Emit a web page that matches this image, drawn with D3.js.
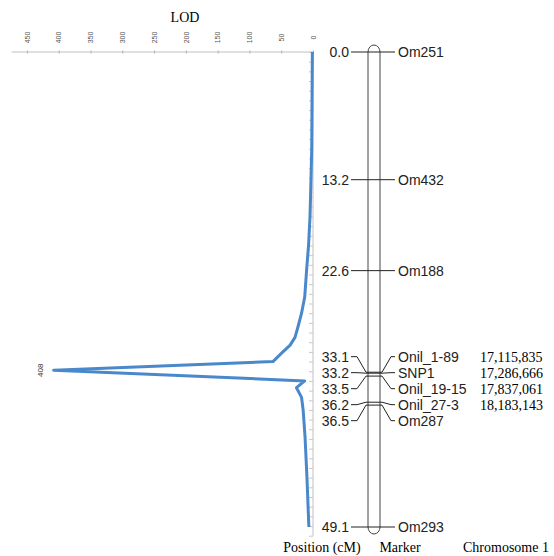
<!DOCTYPE html>
<html><head><meta charset="utf-8">
<script src="https://cdn.jsdelivr.net/npm/d3@7"></script>
<style>
body{margin:0;background:#fff;}
svg{display:block;}
</style>
</head><body>
<svg id="c" width="554" height="556"></svg>
<script>
// ---- data ----
const lodPositions = [0, 5, 10, 14, 17, 20, 22.5, 25.3, 27, 28.4, 29.5, 30.3, 31.1, 32.0, 32.9, 34.0, 34.7, 35.7, 37.0, 39.8, 44, 49.1];
const lodValues    = [1, 1.5, 2, 3.5, 4.7, 7, 10, 13, 18, 23.6, 28.3, 36, 49, 63, 408, 13, 26, 18, 15.5, 12.5, 9.5, 6.5];
const lodTicks = [0, 50, 100, 150, 200, 250, 300, 350, 400, 450];
const peakLabel = "408";
const markerNames = ["Om251", "Om432", "Om188", "Onil_1-89", "SNP1", "Onil_19-15", "Onil_27-3", "Om287", "Om293"];
const markerPos   = [0.0, 13.2, 22.6, 33.1, 33.2, 33.5, 36.2, 36.5, 49.1];
const markerPhys  = ["", "", "", "17,115,835", "17,286,666", "17,837,061", "18,183,143", "", ""];
const footerLabels = ["Position (cM)", "Marker", "Chromosome 1"];

(function () {
// ---- layout ----
const svg = d3.select("#c");
const x = d3.scaleLinear().domain([0, 475]).range([313, 11]);
const y = d3.scaleLinear().domain([0, 49.1]).range([52, 527]);
const axisY = 51.5;
const chrX = 368, chrW = 12;
const chrL = chrX, chrR = chrX + chrW;
const serif = "'Liberation Serif','Times New Roman',serif";
const sans = "'Liberation Sans',Arial,sans-serif";

// top LOD axis
const gTop = svg.append("g").attr("transform", `translate(0,${axisY})`)
  .call(d3.axisTop(x).tickValues(lodTicks).tickSizeInner(-2).tickSizeOuter(0));
gTop.select(".domain").attr("stroke", "#c0c0c0");
gTop.selectAll(".tick line").attr("stroke", "#b0b0b0").attr("y1", -1);
gTop.selectAll(".tick text")
  .attr("x", 0).attr("y", 0).attr("dy", "0.32em")
  .attr("transform", "translate(0,-14) rotate(-90)")
  .attr("text-anchor", "middle")
  .attr("font-family", sans).attr("font-size", 7).attr("fill", "#555");

svg.append("text").attr("x", 185).attr("y", 22).attr("text-anchor", "middle")
  .attr("font-family", serif).attr("font-size", 14).attr("fill", "#000").text("LOD");

// vertical position axis (minor ticks every 1 cM)
const yAx = d3.scaleLinear().domain([0, 50]).range([y(0), y(50)]);
const gLeft = svg.append("g").attr("transform", `translate(${x(0)},0)`)
  .call(d3.axisLeft(yAx).tickValues(d3.range(0, 51, 1)).tickSize(4).tickFormat(""));
gLeft.select(".domain").attr("stroke", "#c0c0c0").attr("d", `M0,${axisY}V${y(50)}`);
gLeft.selectAll(".tick line").attr("stroke", "#c8c8c8");

// LOD curve
const lodData = lodPositions.map((p, i) => [lodValues[i], p]);
svg.append("path").datum(lodData)
  .attr("fill", "none").attr("stroke", "#4a88cc").attr("stroke-width", 3)
  .attr("stroke-linejoin", "round")
  .attr("d", d3.line().x(d => x(d[0])).y(d => y(d[1])));

// peak label
const peakIdx = lodValues.indexOf(d3.max(lodValues));
svg.append("text")
  .attr("transform", `translate(${x(lodValues[peakIdx]) - 13},${y(lodPositions[peakIdx])}) rotate(-90)`)
  .attr("text-anchor", "middle").attr("dy", "0.32em")
  .attr("font-family", sans).attr("font-size", 8).attr("fill", "#333").text(peakLabel);

// chromosome
const chrTop = y(0) - 7, chrBot = y(49.1) + 7;
svg.append("rect").attr("x", chrX).attr("y", chrTop).attr("width", chrW).attr("height", chrBot - chrTop)
  .attr("rx", chrW / 2).attr("ry", 7)
  .attr("fill", "#fff").attr("stroke", "#444").attr("stroke-width", 1);

// label layout: spread overlapping labels, centred on the group's extent
const spacing = 16;
const my = markerPos.map(p => y(p));
function layout(g) {
  const n = g.ys.length, mid = (d3.min(g.ys) + d3.max(g.ys)) / 2;
  const start = mid - (n - 1) * spacing / 2;
  return g.ys.map((_, k) => start + k * spacing);
}
let groups = [];
my.forEach((v, i) => {
  groups.push({idx: [i], ys: [v]});
  let merged = true;
  while (merged && groups.length > 1) {
    merged = false;
    const g = groups[groups.length - 1], pg = groups[groups.length - 2];
    const pLay = layout(pg), gLay = layout(g);
    if (gLay[0] - pLay[pLay.length - 1] < spacing) {
      groups.splice(groups.length - 2, 2, {idx: pg.idx.concat(g.idx), ys: pg.ys.concat(g.ys)});
      merged = true;
    }
  }
});
const ly = new Array(my.length);
groups.forEach(g => { const l = layout(g); g.idx.forEach((i, k) => ly[i] = l[k]); });

const lines = svg.append("g").attr("stroke", "#222").attr("stroke-width", 1).attr("fill", "none");
markerPos.forEach((p, i) => {
  const m = my[i], l = ly[i];
  const pts = [[351, l], [357, l], [chrL - 2, m], [chrR + 2, m], [391, l], [395, l]];
  lines.append("path").attr("d", d3.line()(pts));
});

svg.append("g").selectAll("text").data(markerPos).join("text")
  .attr("x", 349).attr("y", (d, i) => ly[i]).attr("dy", "0.36em").attr("text-anchor", "end")
  .attr("font-family", sans).attr("font-size", 14).attr("fill", "#222")
  .text(d => d.toFixed(1));
svg.append("g").selectAll("text").data(markerNames).join("text")
  .attr("x", 398).attr("y", (d, i) => ly[i]).attr("dy", "0.36em")
  .attr("font-family", sans).attr("font-size", 14).attr("fill", "#222")
  .text(d => d);
svg.append("g").selectAll("text").data(markerPhys).join("text")
  .attr("x", 480).attr("y", (d, i) => ly[i]).attr("dy", "0.36em")
  .attr("font-family", serif).attr("font-size", 14).attr("fill", "#000")
  .text(d => d);

// footer
const footX = [322, 400, 506];
svg.append("g").selectAll("text").data(footerLabels).join("text")
  .attr("x", (d, i) => footX[i]).attr("y", 552).attr("text-anchor", "middle")
  .attr("font-family", serif).attr("font-size", 14).attr("fill", "#000")
  .text(d => d);
})();
</script>
</body></html>
